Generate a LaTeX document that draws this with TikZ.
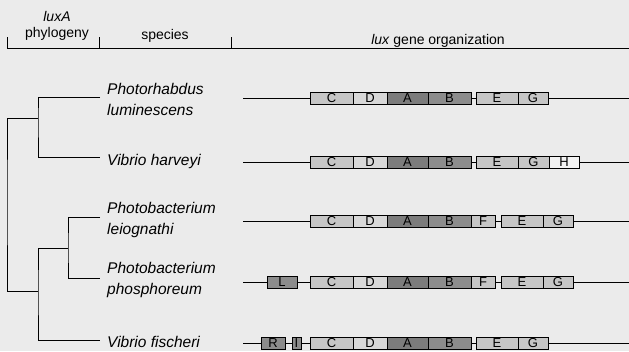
\documentclass[tikz,border=0pt]{standalone}
\usepackage{fontspec}
\setmainfont{Liberation Sans}
\usepackage{xcolor}
\usepackage{tikz}
\usetikzlibrary{positioning}

\definecolor{paper}{HTML}{EBEBEB}
\definecolor{genelight}{HTML}{C6C6C6}
\definecolor{genepale}{HTML}{D8D8D8}
\definecolor{genedark}{HTML}{7C7C7C}
\definecolor{genemid}{HTML}{8C8C8C}

\begin{document}
\begin{tikzpicture}[
  x=1pt, y=-1pt,
  font=\fontsize{14}{16}\selectfont,
  species/.style={align=left, font=\fontsize{15.5}{21}\selectfont\itshape, inner sep=0pt, anchor=west},
  gene/.style={draw, line width=0.6pt, minimum height=12pt, inner sep=0pt, outer sep=0pt,
    font=\fontsize{13}{13}\selectfont},
  light/.style={gene, fill=genelight},
  pale/.style={gene, fill=genepale},
  dark/.style={gene, fill=genedark},
  mid/.style={gene, fill=genemid},
  blank/.style={gene, fill=white!95!black},
  branch/.style={line width=0.7pt},
  dna/.style={line width=0.7pt}
]
\fill[paper] (0,0) rectangle (629,351);
\useasboundingbox (0,0) rectangle (629,351);

% header
\node (luxa) at (57,16) {\textit{luxA}};
\node (phylo) at (57,34) {phylogeny};
\node (spec) at (165,36) {species};
\node (org) at (438,41) {\textit{lux} gene organization};
\coordinate (h0) at (7,48);
\coordinate (h1) at (99,48);
\coordinate (h2) at (231,48);
\coordinate (h3) at (629,48);
\draw[branch] (h0) -- (h3);
\foreach \h in {h0,h1,h2} \draw[branch] (\h) -- ++(0,-11);

% tree tips and inner nodes
\coordinate (t1) at (100,97);
\coordinate (t2) at (100,157);
\coordinate (t3) at (100,217);
\coordinate (t4) at (100,278);
\coordinate (t5) at (100,340);
\coordinate (n1) at (38,118);
\coordinate (n2) at (38,291);
\coordinate (n3) at (68,248);
\coordinate (root) at (7,200);

\node[species, right=7pt of t1, yshift=-2pt] (sp1) {Photorhabdus\\luminescens};
\node[species, right=7pt of t2, yshift=-4pt] (sp2) {Vibrio harveyi};
\node[species, right=7pt of t3, yshift=-3pt] (sp3) {Photobacterium\\leiognathi};
\node[species, right=7pt of t4, yshift=-2pt] (sp4) {Photobacterium\\phosphoreum};
\node[species, right=7pt of t5, yshift=-2pt] (sp5) {Vibrio fischeri};

\draw[branch] (t1) -| (n1) |- (t2);
\draw[branch] (t3) -| (n3) |- (t4);
\draw[branch] (n3) -| (n2) |- (t5);
\draw[branch] (n1) -| (root) |- (n2);

% lux operons: common C D A B core
\foreach \r/\y in {1/98,2/162,3/221,4/282,5/343} {
  \coordinate (s\r) at (243,\y);
  \coordinate (e\r) at (629,\y);
  \node[light, minimum width=43pt, anchor=west] (c\r) at (310,\y) {C};
  \node[pale, minimum width=34pt, right=0pt of c\r] (d\r) {D};
  \node[dark, minimum width=41pt, right=0pt of d\r] (a\r) {A};
  \node[mid, minimum width=43pt, right=0pt of a\r] (b\r) {B};
}

% Photorhabdus luminescens
\node[light, minimum width=42pt, right=5pt of b1] (le1) {E};
\node[light, minimum width=30pt, right=0pt of le1] (lg1) {G};
\draw[dna] (s1) -- (c1.west);
\draw[dna] (b1.east) -- (le1.west);
\draw[dna] (lg1.east) -- (e1);

% Vibrio harveyi
\node[light, minimum width=42pt, right=5pt of b2] (le2) {E};
\node[light, minimum width=31pt, right=0pt of le2] (lg2) {G};
\node[blank, minimum width=30pt, right=0pt of lg2] (lh2) {H};
\draw[dna] (s2) -- (c2.west);
\draw[dna] (b2.east) -- (le2.west);
\draw[dna] (lh2.east) -- (e2);

% Photobacterium leiognathi
\node[light, minimum width=24pt, right=0pt of b3] (lf3) {F};
\node[light, minimum width=42pt, right=6pt of lf3] (le3) {E};
\node[light, minimum width=30pt, right=0pt of le3] (lg3) {G};
\draw[dna] (s3) -- (c3.west);
\draw[dna] (lf3.east) -- (le3.west);
\draw[dna] (lg3.east) -- (e3);

% Photobacterium phosphoreum
\node[mid, minimum width=30pt, anchor=west] (ll4) at (267,282) {L};
\node[light, minimum width=24pt, right=0pt of b4] (lf4) {F};
\node[light, minimum width=42pt, right=6pt of lf4] (le4) {E};
\node[light, minimum width=30pt, right=0pt of le4] (lg4) {G};
\draw[dna] (s4) -- (ll4.west);
\draw[dna] (ll4.east) -- (c4.west);
\draw[dna] (lf4.east) -- (le4.west);
\draw[dna] (lg4.east) -- (e4);

% Vibrio fischeri
\node[mid, minimum width=24pt, anchor=west] (lr5) at (261,343) {R};
\node[mid, minimum width=9pt, anchor=west] (li5) at (292,343) {I};
\node[light, minimum width=42pt, right=5pt of b5] (le5) {E};
\node[light, minimum width=30pt, right=0pt of le5] (lg5) {G};
\draw[dna] (s5) -- (lr5.west);
\draw[dna] (lr5.east) -- (li5.west);
\draw[dna] (li5.east) -- (c5.west);
\draw[dna] (b5.east) -- (le5.west);
\draw[dna] (lg5.east) -- (e5);
\end{tikzpicture}
\end{document}
